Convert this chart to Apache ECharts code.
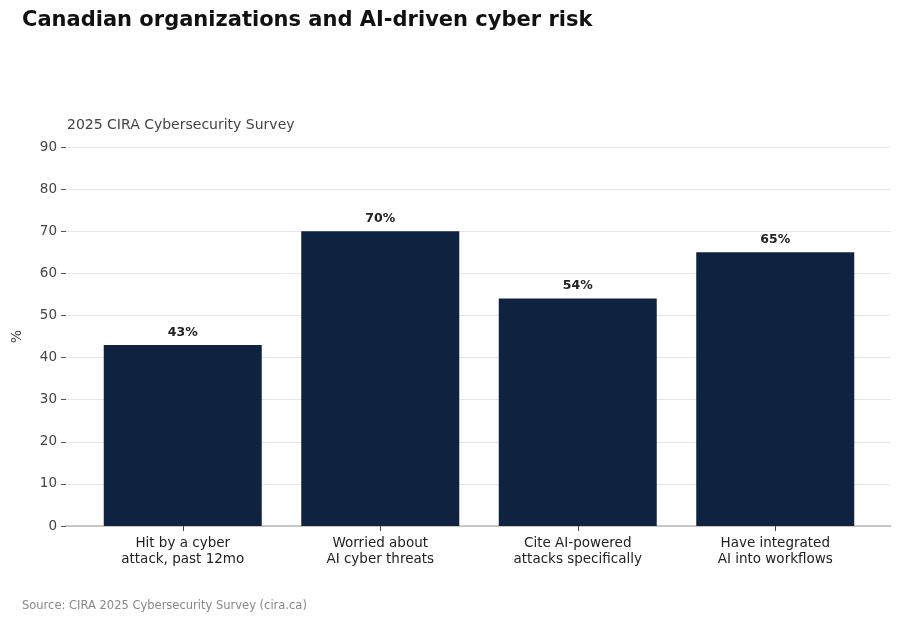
<!DOCTYPE html>
<html>
<head>
<meta charset="utf-8">
<script src="https://cdn.jsdelivr.net/npm/echarts@6/dist/echarts.min.js"></script>
<style>
  html, body { margin: 0; padding: 0; background: #fff; }
  #chart { width: 901px; height: 619px; }
</style>
</head>
<body>
<div id="chart"></div>
<script>
// data
var categories = [
    'Hit by a cyber\nattack, past 12mo',
    'Worried about\nAI cyber threats',
    'Cite AI-powered\nattacks specifically',
    'Have integrated\nAI into workflows'
];
var shares = [43, 70, 54, 65];
var yTicks = [0, 10, 20, 30, 40, 50, 60, 70, 80, 90];

var FONT = 'DejaVu Sans';
var chart = echarts.init(document.getElementById('chart'));

var option = {
    backgroundColor: '#fff',
    animation: false,
    textStyle: { fontFamily: FONT },
    title: [
        {
            text: 'Canadian organizations and AI-driven cyber risk',
            left: 17, top: 5,
            textStyle: { fontSize: 21, fontWeight: 'bold', color: '#111', fontFamily: FONT }
        },
        {
            text: '2025 CIRA Cybersecurity Survey',
            left: 62, top: 113,
            textStyle: { fontSize: 14, fontWeight: 'normal', color: '#444', fontFamily: FONT }
        },
        {
            text: 'Source: CIRA 2025 Cybersecurity Survey (cira.ca)',
            left: 17, top: 595,
            textStyle: { fontSize: 11.5, fontWeight: 'normal', color: '#888', fontFamily: FONT }
        }
    ],
    // grid 0: full-width gridlines and y labels, grid 1: bars (padded inside)
    grid: [
        { left: 66, right: 10, top: 147, bottom: 93 },
        { left: 84, right: 27, top: 147, bottom: 93 }
    ],
    xAxis: [
        {
            gridIndex: 0, type: 'value', min: 0, max: 1,
            axisLine: { show: true, onZero: false, lineStyle: { color: '#bbb', width: 1.5 } },
            axisTick: { show: false }, axisLabel: { show: false }, splitLine: { show: false }
        },
        {
            gridIndex: 1, type: 'category', data: categories,
            axisLine: { show: false },
            axisTick: { show: true, alignWithLabel: true, length: 5, lineStyle: { color: '#444' } },
            axisLabel: { fontSize: 13.5, color: '#222', lineHeight: 16, margin: 9, fontFamily: FONT }
        }
    ],
    yAxis: [
        {
            gridIndex: 0, type: 'value', min: 0, max: 90, interval: 10,
            name: '%', nameLocation: 'middle', nameGap: 42, nameRotate: 90,
            nameTextStyle: { fontSize: 14, color: '#444', fontFamily: FONT },
            axisLine: { show: false },
            axisTick: { show: true, length: 5, lineStyle: { color: '#555' } },
            axisLabel: {
                fontSize: 13.5, color: '#444', margin: 9, fontFamily: FONT,
                formatter: function (v) { return yTicks.indexOf(v) >= 0 ? String(v) : ''; }
            },
            splitLine: { show: true, lineStyle: { color: '#e6e6e6', width: 1 } }
        },
        {
            gridIndex: 1, type: 'value', min: 0, max: 90, interval: 10,
            axisLine: { show: false }, axisTick: { show: false },
            axisLabel: { show: false }, splitLine: { show: false }
        }
    ],
    series: [
        {
            type: 'bar',
            xAxisIndex: 1, yAxisIndex: 1,
            data: shares,
            barWidth: 158,
            itemStyle: { color: '#0f2341' },
            label: {
                show: true, position: 'top', distance: 6,
                formatter: '{c}%',
                fontSize: 12.5, fontWeight: 'bold', color: '#222', fontFamily: FONT
            }
        }
    ]
};

chart.setOption(option);
</script>
</body>
</html>
